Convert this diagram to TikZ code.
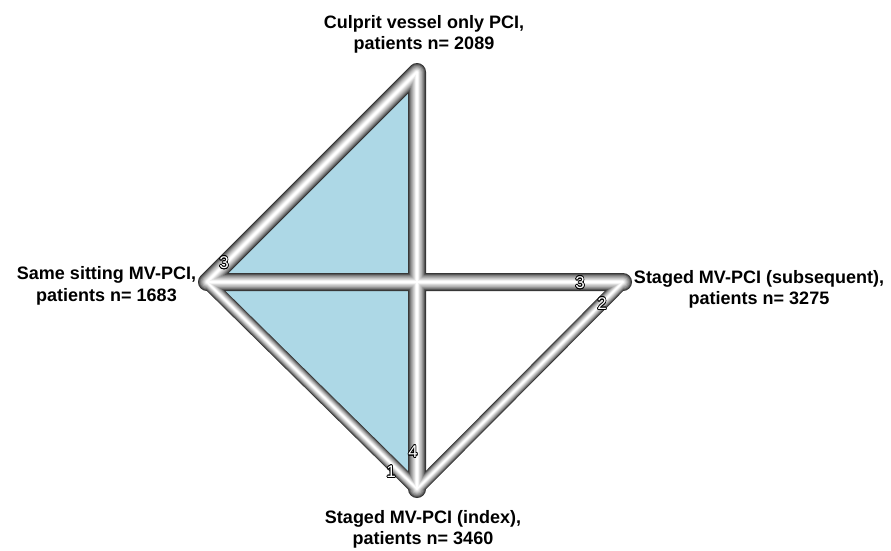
\documentclass[tikz,border=0pt]{standalone}
\usepackage{fontspec}
\setmainfont{Liberation Sans}
\usepackage[copies]{contour}
\contourlength{0.7pt}
\contournumber{16}
\definecolor{triblue}{RGB}{173,216,230}
\tikzset{
  lbl/.style={font=\bfseries\fontsize{18}{21.5}\selectfont, align=center, anchor=base, inner sep=0pt},
  num/.style={font=\fontsize{17}{17}\selectfont, inner sep=0pt, text=white},
}
\begin{document}
\begin{tikzpicture}[x=1pt,y=-1pt]
\useasboundingbox (0,0) rectangle (891,550);
% network vertices
\coordinate (T) at (417,72);
\coordinate (L) at (207,282);
\coordinate (R) at (623,282);
\coordinate (B) at (417,489);
% closed loop shaded in blue
\fill[triblue] (T) -- (L) -- (B) -- cycle;
% metallic tubes: concentric strokes from dark rim to white core
\foreach \f/\g in {1.00/20,0.90/33,0.80/45,0.70/56,0.60/65,0.50/73,0.40/80,0.30/88,0.20/95,0.10/100}{
  \draw[line width={\f*18pt}, white!\g!black, line cap=round] (T) -- (L) (T) -- (B) (L) -- (R);
  \draw[line width={\f*13pt}, white!\g!black, line cap=round] (L) -- (B) (R) -- (B);
}
% number of studies per comparison
\node[num] (nTL) at (224,263) {\contour{black}{3}};
\node[num] (nLR) at (580,283) {\contour{black}{3}};
\node[num] (nRB) at (602,304) {\contour{black}{2}};
\node[num] (nTB) at (413,452) {\contour{black}{4}};
\node[num] (nLB) at (391,472) {\contour{black}{1}};
% treatment labels (anchored at the baseline of the second line)
\node[lbl] (lt) at (424,49.5) {Culprit vessel only PCI,\\patients n= 2089};
\node[lbl] (ll) at (106.5,301) {Same sitting MV-PCI,\\patients n= 1683};
\node[lbl] (lr) at (759,304.5) {Staged MV-PCI (subsequent),\\patients n= 3275};
\node[lbl] (lb) at (423,544.5) {Staged MV-PCI (index),\\patients n= 3460};
\end{tikzpicture}
\end{document}
